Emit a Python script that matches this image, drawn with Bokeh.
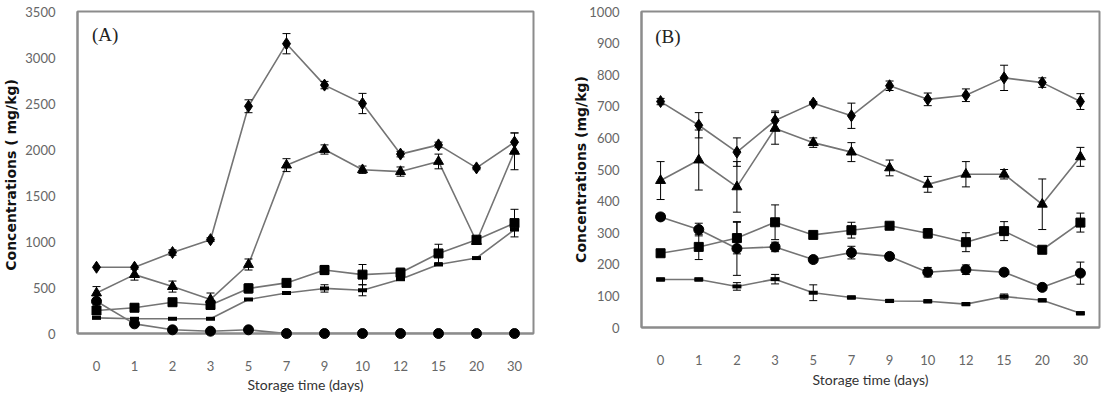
from bokeh.plotting import figure
from bokeh.layouts import row
from bokeh.models import ColumnDataSource, Whisker, TeeHead, Label, FixedTicker, FactorRange, Range1d
from bokeh.core.properties import value
from bokeh.embed import file_html
from bokeh.resources import INLINE

days = ["0", "1", "2", "3", "5", "7", "9", "10", "12", "15", "20", "30"]

# ---- Panel (A) values, mg/kg ----
a_diamond = [720, 720, 880, 1020, 2470, 3150, 2700, 2500, 1950, 2050, 1800, 2080]
a_diamond_err = [0, 0, 30, 20, 70, 110, 40, 110, 30, 30, 20, 100]
a_triangle = [440, 640, 510, 370, 750, 1830, 2000, 1780, 1760, 1870, 1000, 1980]
a_triangle_err = [70, 60, 60, 70, 60, 70, 50, 40, 50, 80, 30, 200]
a_square = [250, 280, 340, 310, 490, 550, 690, 640, 660, 870, 1020, 1200]
a_square_err = [0, 40, 40, 40, 50, 40, 50, 110, 50, 100, 30, 150]
a_dash = [170, 160, 160, 160, 370, 440, 490, 470, 590, 750, 820, 1130]
a_dash_err = [0, 0, 0, 0, 0, 0, 40, 60, 0, 0, 0, 0]
a_circle = [350, 105, 40, 25, 40, 0, 0, 0, 0, 0, 0, 0]
a_circle_err = [0, 0, 0, 0, 0, 0, 0, 0, 0, 0, 0, 0]

# ---- Panel (B) values, mg/kg ----
b_diamond = [715, 640, 555, 655, 710, 670, 765, 722, 735, 790, 775, 715]
b_diamond_err = [10, 40, 45, 30, 5, 40, 15, 20, 20, 40, 15, 25]
b_triangle = [465, 530, 445, 630, 585, 555, 505, 453, 485, 485, 390, 540]
b_triangle_err = [60, 95, 80, 50, 15, 30, 25, 25, 40, 15, 80, 30]
b_square = [235, 255, 283, 333, 293, 308, 322, 298, 270, 305, 246, 332]
b_square_err = [10, 40, 50, 55, 10, 25, 10, 15, 30, 30, 10, 30]
b_circle = [350, 310, 250, 255, 215, 237, 225, 175, 183, 175, 127, 172]
b_circle_err = [10, 20, 85, 15, 10, 20, 10, 15, 15, 10, 10, 35]
b_dash = [152, 152, 130, 153, 110, 95, 84, 83, 74, 98, 86, 45]
b_dash_err = [5, 5, 12, 15, 25, 5, 5, 5, 5, 8, 5, 5]

x_title = "Storage time (days)"

LINE = "#747474"
FRAME = "#8c8c8c"
TICK_COLOR = "#666666"
TICK_FONT = "Lato"


def make_panel(width, height, left, right, ymax, ystep, ytitle, title_gap,
               tick_gap, xtitle_y, tag, tag_x, tag_y, series):
    p = figure(width=width, height=height, x_range=FactorRange(*days, range_padding=0),
               y_range=Range1d(0, ymax), output_backend="svg", toolbar_location=None,
               min_border_left=left, min_border_right=right, min_border_top=11,
               min_border_bottom=61)
    p.grid.visible = False
    p.outline_line_color = FRAME
    p.outline_line_width = 2
    p.background_fill_color = "white"

    for vals, errs, marker, size in series:
        src = ColumnDataSource(dict(x=days, y=vals))
        p.line("x", "y", source=src, line_color=LINE, line_width=1.6)
        ex = [d for d, e in zip(days, errs) if e > 0]
        lo = [v - e for v, e in zip(vals, errs) if e > 0]
        hi = [v + e for v, e in zip(vals, errs) if e > 0]
        if ex:
            esrc = ColumnDataSource(dict(x=ex, lower=lo, upper=hi))
            p.add_layout(Whisker(base="x", lower="lower", upper="upper", source=esrc,
                                 line_color="black", line_width=1, level="glyph",
                                 upper_head=TeeHead(size=8, line_color="black", line_width=1),
                                 lower_head=TeeHead(size=8, line_color="black", line_width=1)))
        # markers sit on top of the axes and are not clipped at the frame edge
        if marker == "dash":
            p.scatter("x", "y", source=src, marker="dash", size=size,
                      line_color="black", line_width=4, level="annotation")
        else:
            p.scatter("x", "y", source=src, marker=marker, size=size,
                      fill_color="black", line_color="black", level="annotation")

    p.yaxis.ticker = FixedTicker(ticks=list(range(0, ymax + 1, ystep)))
    for ax in (p.xaxis[0], p.yaxis[0]):
        ax.axis_line_color = FRAME
        ax.axis_line_width = 2
        ax.major_tick_line_color = None
        ax.minor_tick_line_color = None
        ax.major_label_text_color = TICK_COLOR
        ax.major_label_text_font = TICK_FONT
        ax.major_label_text_font_size = "13px"

    p.yaxis.major_label_standoff = 16
    p.yaxis.axis_label = ytitle
    p.yaxis.axis_label_text_font = "DejaVu Sans"
    p.yaxis.axis_label_text_font_style = "bold"
    p.yaxis.axis_label_text_font_size = "14px"
    p.yaxis.axis_label_text_color = "#111111"
    p.yaxis.axis_label_standoff = title_gap

    p.xaxis.major_label_standoff = tick_gap

    # x-axis title, centred under the frame (drawn outside the clipped area)
    p.text(x=[len(days) / 2], y=[xtitle_y], text=[x_title], text_font=value("Lato"),
           text_font_size="14px", text_color="#333333", text_align="center",
           text_baseline="middle", level="annotation")

    p.add_layout(Label(x=tag_x, y=tag_y, text=tag, text_font="Liberation Serif",
                       text_font_size="19px", text_color="#222222",
                       text_baseline="middle"))
    return p


pa = make_panel(545, 394, 77, 12, 3500, 500, "Concentrations  ( mg/kg)", 3, 21, -555,
                "(A)", 0.38, 3250, [
                    (a_diamond, a_diamond_err, "diamond", 12),
                    (a_triangle, a_triangle_err, "triangle", 10),
                    (a_square, a_square_err, "square", 9),
                    (a_dash, a_dash_err, "dash", 9),
                    (a_circle, a_circle_err, "circle", 10),
                ])

pb = make_panel(568, 388, 96, 14, 1000, 100, "Concentrations (mg/kg)", -3, 21, -163,
                "(B)", 0.36, 922, [
                    (b_diamond, b_diamond_err, "diamond", 12),
                    (b_triangle, b_triangle_err, "triangle", 10),
                    (b_square, b_square_err, "square", 9),
                    (b_circle, b_circle_err, "circle", 10),
                    (b_dash, b_dash_err, "dash", 9),
                ])

layout = row(pa, pb)
open("out.html", "w").write(file_html(layout, INLINE))
